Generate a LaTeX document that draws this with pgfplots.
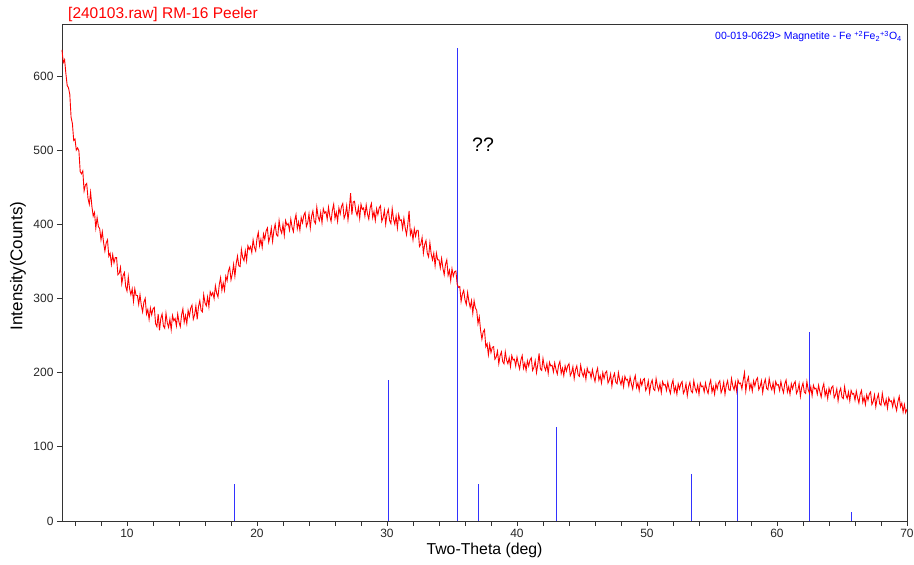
\documentclass[border=0pt]{standalone}
\usepackage{pgfplots}
\pgfplotsset{compat=1.18}
\usepackage{fontspec}
\setmainfont{Liberation Sans}
\begin{document}
\begin{tikzpicture}
\begin{axis}[
  scale only axis,
  width=845pt, height=497pt,
  xmin=5, xmax=70, ymin=0, ymax=670,
  clip=false,
  axis line style={black!80, line width=0.8pt},
  every tick/.style={black!80, line width=0.8pt},
  tick align=outside,
  tick pos=left,
  major tick length=5pt,
  minor tick length=5pt,
  xtick={10,20,30,40,50,60,70},
  minor xtick={6,8,12,14,16,18,22,24,26,28,32,34,36,38,42,44,46,48,52,54,56,58,62,64,66,68},
  ytick={0,100,200,300,400,500,600},
  /pgf/number format/assume math mode=true,
  tick label style={font=\fontsize{12}{14}\selectfont, text=black!85},
  xlabel={Two-Theta (deg)},
  ylabel={Intensity(Counts)},
  every axis x label/.style={at={(axis description cs:0.5,-0.0684)}, anchor=base, font=\fontsize{15.8}{18}\selectfont},
  every axis y label/.style={at={(axis description cs:-0.052,0.513)}, anchor=center, rotate=90, font=\fontsize{17}{19}\selectfont},
]
\addplot[ycomb, color={rgb,255:red,50;green,50;blue,255}, line width=1.3pt, mark=none] coordinates {
(18.27,50) (30.09,190) (35.43,638) (37.06,50) (43.06,127) (53.40,63) (56.95,186) (62.52,255) (65.72,12)
};
\addplot[red, line width=0.9pt, mark=none] coordinates {
(5.0,635) (5.1,618) (5.2,622) (5.3,603) (5.4,587) (5.5,584) (5.6,575) (5.7,544) (5.8,536) (5.9,513) (6.0,515)
(6.1,500) (6.2,503) (6.3,499) (6.4,471) (6.5,468) (6.6,472) (6.7,445) (6.8,453) (6.9,455) (7.0,435)
(7.1,427) (7.2,443) (7.3,424) (7.4,411) (7.5,416) (7.6,395) (7.7,409) (7.8,397) (7.9,394) (8.0,379)
(8.1,390) (8.2,375) (8.3,364) (8.4,375) (8.5,379) (8.6,357) (8.7,361) (8.8,346) (8.9,359) (9.0,348)
(9.1,355) (9.2,355) (9.3,332) (9.4,334) (9.5,342) (9.6,320) (9.7,331) (9.8,335) (9.9,316) (10.0,310)
(10.1,329) (10.2,313) (10.3,305) (10.4,313) (10.5,296) (10.6,313) (10.7,304) (10.8,304) (10.9,292) (11.0,305)
(11.1,291) (11.2,282) (11.3,295) (11.4,300) (11.5,279) (11.6,285) (11.7,272) (11.8,287) (11.9,278) (12.0,286)
(12.1,288) (12.2,266) (12.3,262) (12.4,279) (12.5,257) (12.6,273) (12.7,279) (12.8,263) (12.9,260) (13.0,280)
(13.1,267) (13.2,261) (13.3,272) (13.4,258) (13.5,277) (13.6,270) (13.7,273) (13.8,263) (13.9,279) (14.0,268)
(14.1,262) (14.2,278) (14.3,286) (14.4,268) (14.5,277) (14.6,266) (14.7,284) (14.8,276) (14.9,287) (15.0,291)
(15.1,272) (15.2,278) (15.3,290) (15.4,272) (15.5,289) (15.6,297) (15.7,284) (15.8,282) (15.9,305) (16.0,294)
(16.1,290) (16.2,302) (16.3,289) (16.4,309) (16.5,304) (16.6,308) (16.7,300) (16.8,317) (16.9,307) (17.0,302)
(17.1,319) (17.2,328) (17.3,311) (17.4,321) (17.5,311) (17.6,330) (17.7,324) (17.8,337) (17.9,342) (18.0,325)
(18.1,333) (18.2,346) (18.3,330) (18.4,347) (18.5,357) (18.6,344) (18.7,343) (18.8,366) (18.9,355) (19.0,351)
(19.1,364) (19.2,351) (19.3,371) (19.4,366) (19.5,370) (19.6,362) (19.7,379) (19.8,369) (19.9,364) (20.0,381)
(20.1,389) (20.2,371) (20.3,380) (20.4,369) (20.5,387) (20.6,380) (20.7,391) (20.8,395) (20.9,376) (21.0,383)
(21.1,395) (21.2,377) (21.3,392) (21.4,400) (21.5,386) (21.6,384) (21.7,405) (21.8,393) (21.9,388) (22.0,400)
(22.1,385) (22.2,405) (22.3,399) (22.4,401) (22.5,392) (22.6,407) (22.7,396) (22.8,390) (22.9,405) (23.0,413)
(23.1,394) (23.2,403) (23.3,392) (23.4,409) (23.5,402) (23.6,412) (23.7,416) (23.8,397) (23.9,402) (24.0,414)
(24.1,395) (24.2,411) (24.3,418) (24.4,404) (24.5,401) (24.6,423) (24.7,410) (24.8,405) (24.9,416) (25.0,402)
(25.1,421) (25.2,415) (25.3,417) (25.4,407) (25.5,423) (25.6,411) (25.7,404) (25.8,419) (25.9,427) (26.0,408)
(26.1,416) (26.2,404) (26.3,422) (26.4,414) (26.5,424) (26.6,428) (26.7,408) (26.8,413) (26.9,425) (27.0,406)
(27.1,421) (27.2,442) (27.3,413) (27.4,430) (27.5,431) (27.6,418) (27.7,412) (27.8,423) (27.9,408) (28.0,427)
(28.1,420) (28.2,422) (28.3,411) (28.4,426) (28.5,414) (28.6,407) (28.7,422) (28.8,428) (28.9,409) (29.0,417)
(29.1,405) (29.2,421) (29.3,413) (29.4,422) (29.5,425) (29.6,404) (29.7,409) (29.8,419) (29.9,400) (30.0,414)
(30.1,420) (30.2,405) (30.3,401) (30.4,421) (30.5,407) (30.6,400) (30.7,411) (30.8,395) (30.9,413) (31.0,405)
(31.1,406) (31.2,394) (31.3,408) (31.4,395) (31.5,386) (31.6,400) (31.7,418) (31.8,386) (31.9,392) (32.0,379)
(32.1,394) (32.2,384) (32.3,392) (32.4,392) (32.5,370) (32.6,373) (32.7,382) (32.8,361) (32.9,373) (33.0,378)
(33.1,361) (33.2,356) (33.3,375) (33.4,360) (33.5,352) (33.6,361) (33.7,344) (33.8,361) (33.9,352) (34.0,352)
(34.1,341) (34.2,354) (34.3,341) (34.4,332) (34.5,346) (34.6,352) (34.7,331) (34.8,338) (34.9,324) (35.0,340)
(35.1,330) (35.2,336) (35.3,337) (35.4,319) (35.5,315) (35.6,316) (35.7,296) (35.8,306) (35.9,311) (36.0,298)
(36.1,292) (36.2,308) (36.3,296) (36.4,288) (36.5,297) (36.6,280) (36.7,297) (36.8,287) (36.9,284) (37.0,266)
(37.1,275) (37.2,257) (37.3,245) (37.4,255) (37.5,258) (37.6,235) (37.7,239) (37.8,224) (37.9,238) (38.0,227)
(38.1,234) (38.2,235) (38.3,218) (38.4,221) (38.5,229) (38.6,212) (38.7,223) (38.8,228) (38.9,215) (39.0,212)
(39.1,228) (39.2,217) (39.3,212) (39.4,220) (39.5,208) (39.6,223) (39.7,217) (39.8,218) (39.9,209) (40.0,221)
(40.1,212) (40.2,205) (40.3,217) (40.4,223) (40.5,206) (40.6,213) (40.7,203) (40.8,216) (40.9,209) (41.0,217)
(41.1,220) (41.2,203) (41.3,207) (41.4,216) (41.5,200) (41.6,211) (41.7,226) (41.8,205) (41.9,203) (42.0,219)
(42.1,208) (42.2,203) (42.3,212) (42.4,199) (42.5,214) (42.6,209) (42.7,210) (42.8,201) (42.9,213) (43.0,204)
(43.1,198) (43.2,210) (43.3,215) (43.4,199) (43.5,206) (43.6,196) (43.7,209) (43.8,202) (43.9,209) (44.0,212)
(44.1,196) (44.2,200) (44.3,208) (44.4,192) (44.5,204) (44.6,209) (44.7,197) (44.8,195) (44.9,210) (45.0,200)
(45.1,195) (45.2,203) (45.3,191) (45.4,206) (45.5,200) (45.6,201) (45.7,193) (45.8,204) (45.9,195) (46.0,188)
(46.1,200) (46.2,206) (46.3,190) (46.4,196) (46.5,186) (46.6,200) (46.7,192) (46.8,200) (46.9,202) (47.0,186)
(47.1,190) (47.2,198) (47.3,182) (47.4,194) (47.5,199) (47.6,187) (47.7,185) (47.8,200) (47.9,190) (48.0,184)
(48.1,193) (48.2,181) (48.3,195) (48.4,190) (48.5,191) (48.6,182) (48.7,194) (48.8,185) (48.9,178) (49.0,190)
(49.1,196) (49.2,180) (49.3,186) (49.4,176) (49.5,190) (49.6,183) (49.7,190) (49.8,192) (49.9,176) (50.0,180)
(50.1,189) (50.2,173) (50.3,185) (50.4,190) (50.5,178) (50.6,176) (50.7,192) (50.8,182) (50.9,176) (51.0,185)
(51.1,173) (51.2,188) (51.3,183) (51.4,184) (51.5,176) (51.6,187) (51.7,178) (51.8,172) (51.9,184) (52.0,190)
(52.1,174) (52.2,181) (52.3,171) (52.4,185) (52.5,178) (52.6,185) (52.7,188) (52.8,172) (52.9,176) (53.0,185)
(53.1,169) (53.2,181) (53.3,187) (53.4,175) (53.5,173) (53.6,189) (53.7,179) (53.8,174) (53.9,183) (54.0,171)
(54.1,186) (54.2,181) (54.3,182) (54.4,174) (54.5,186) (54.6,177) (54.7,172) (54.8,184) (54.9,190) (55.0,174)
(55.1,181) (55.2,171) (55.3,185) (55.4,178) (55.5,186) (55.6,189) (55.7,173) (55.8,178) (55.9,187) (56.0,171)
(56.1,183) (56.2,189) (56.3,177) (56.4,176) (56.5,192) (56.6,182) (56.7,177) (56.8,187) (56.9,175) (57.0,190)
(57.1,185) (57.2,186) (57.3,178) (57.4,190) (57.5,200) (57.6,175) (57.7,188) (57.8,194) (57.9,178) (58.0,185)
(58.1,175) (58.2,189) (58.3,182) (58.4,190) (58.5,193) (58.6,177) (58.7,181) (58.8,189) (58.9,173) (59.0,185)
(59.1,191) (59.2,179) (59.3,177) (59.4,192) (59.5,182) (59.6,177) (59.7,186) (59.8,174) (59.9,188) (60.0,183)
(60.1,184) (60.2,176) (60.3,188) (60.4,179) (60.5,173) (60.6,185) (60.7,190) (60.8,174) (60.9,181) (61.0,171)
(61.1,185) (61.2,178) (61.3,185) (61.4,188) (61.5,172) (61.6,176) (61.7,185) (61.8,168) (61.9,180) (62.0,186)
(62.1,174) (62.2,172) (62.3,188) (62.4,177) (62.5,172) (62.6,181) (62.7,169) (62.8,183) (62.9,178) (63.0,179)
(63.1,171) (63.2,183) (63.3,174) (63.4,167) (63.5,179) (63.6,185) (63.7,169) (63.8,176) (63.9,165) (64.0,179)
(64.1,172) (64.2,180) (64.3,182) (64.4,166) (64.5,170) (64.6,178) (64.7,162) (64.8,174) (64.9,179) (65.0,167)
(65.1,165) (65.2,181) (65.3,170) (65.4,165) (65.5,174) (65.6,162) (65.7,176) (65.8,171) (65.9,172) (66.0,163)
(66.1,175) (66.2,166) (66.3,159) (66.4,171) (66.5,176) (66.6,160) (66.7,167) (66.8,157) (66.9,170) (67.0,163)
(67.1,171) (67.2,174) (67.3,157) (67.4,161) (67.5,170) (67.6,154) (67.7,165) (67.8,171) (67.9,158) (68.0,156)
(68.1,172) (68.2,161) (68.3,156) (68.4,164) (68.5,152) (68.6,166) (68.7,161) (68.8,162) (68.9,154) (69.0,165)
(69.1,156) (69.2,149) (69.3,161) (69.4,168) (69.5,154) (69.6,159) (69.7,147) (69.8,157) (69.9,146) (70.0,151)
};
\node[anchor=base west, inner sep=0pt, text=red, font=\fontsize{15.5}{17}\selectfont] at ([xshift=6pt,yshift=5pt]axis description cs:0,1) {[240103.raw] RM-16 Peeler};
\node[anchor=base east, inner sep=0pt, text=blue, font=\fontsize{10.5}{12}\selectfont] at ([xshift=-5pt,yshift=-16pt]axis description cs:1,1) {00-019-0629> Magnetite - Fe \textsuperscript{+2}Fe\textsubscript{2}\textsuperscript{+3}O\textsubscript{4}};
\node[anchor=base west, inner sep=0pt, font=\fontsize{19.5}{22}\selectfont] at (axis cs:36.54,497.5) {??};
\end{axis}
\pgfresetboundingbox
\path[use as bounding box] (-62pt,-44pt) rectangle (852pt,521pt);
\end{tikzpicture}
\end{document}
